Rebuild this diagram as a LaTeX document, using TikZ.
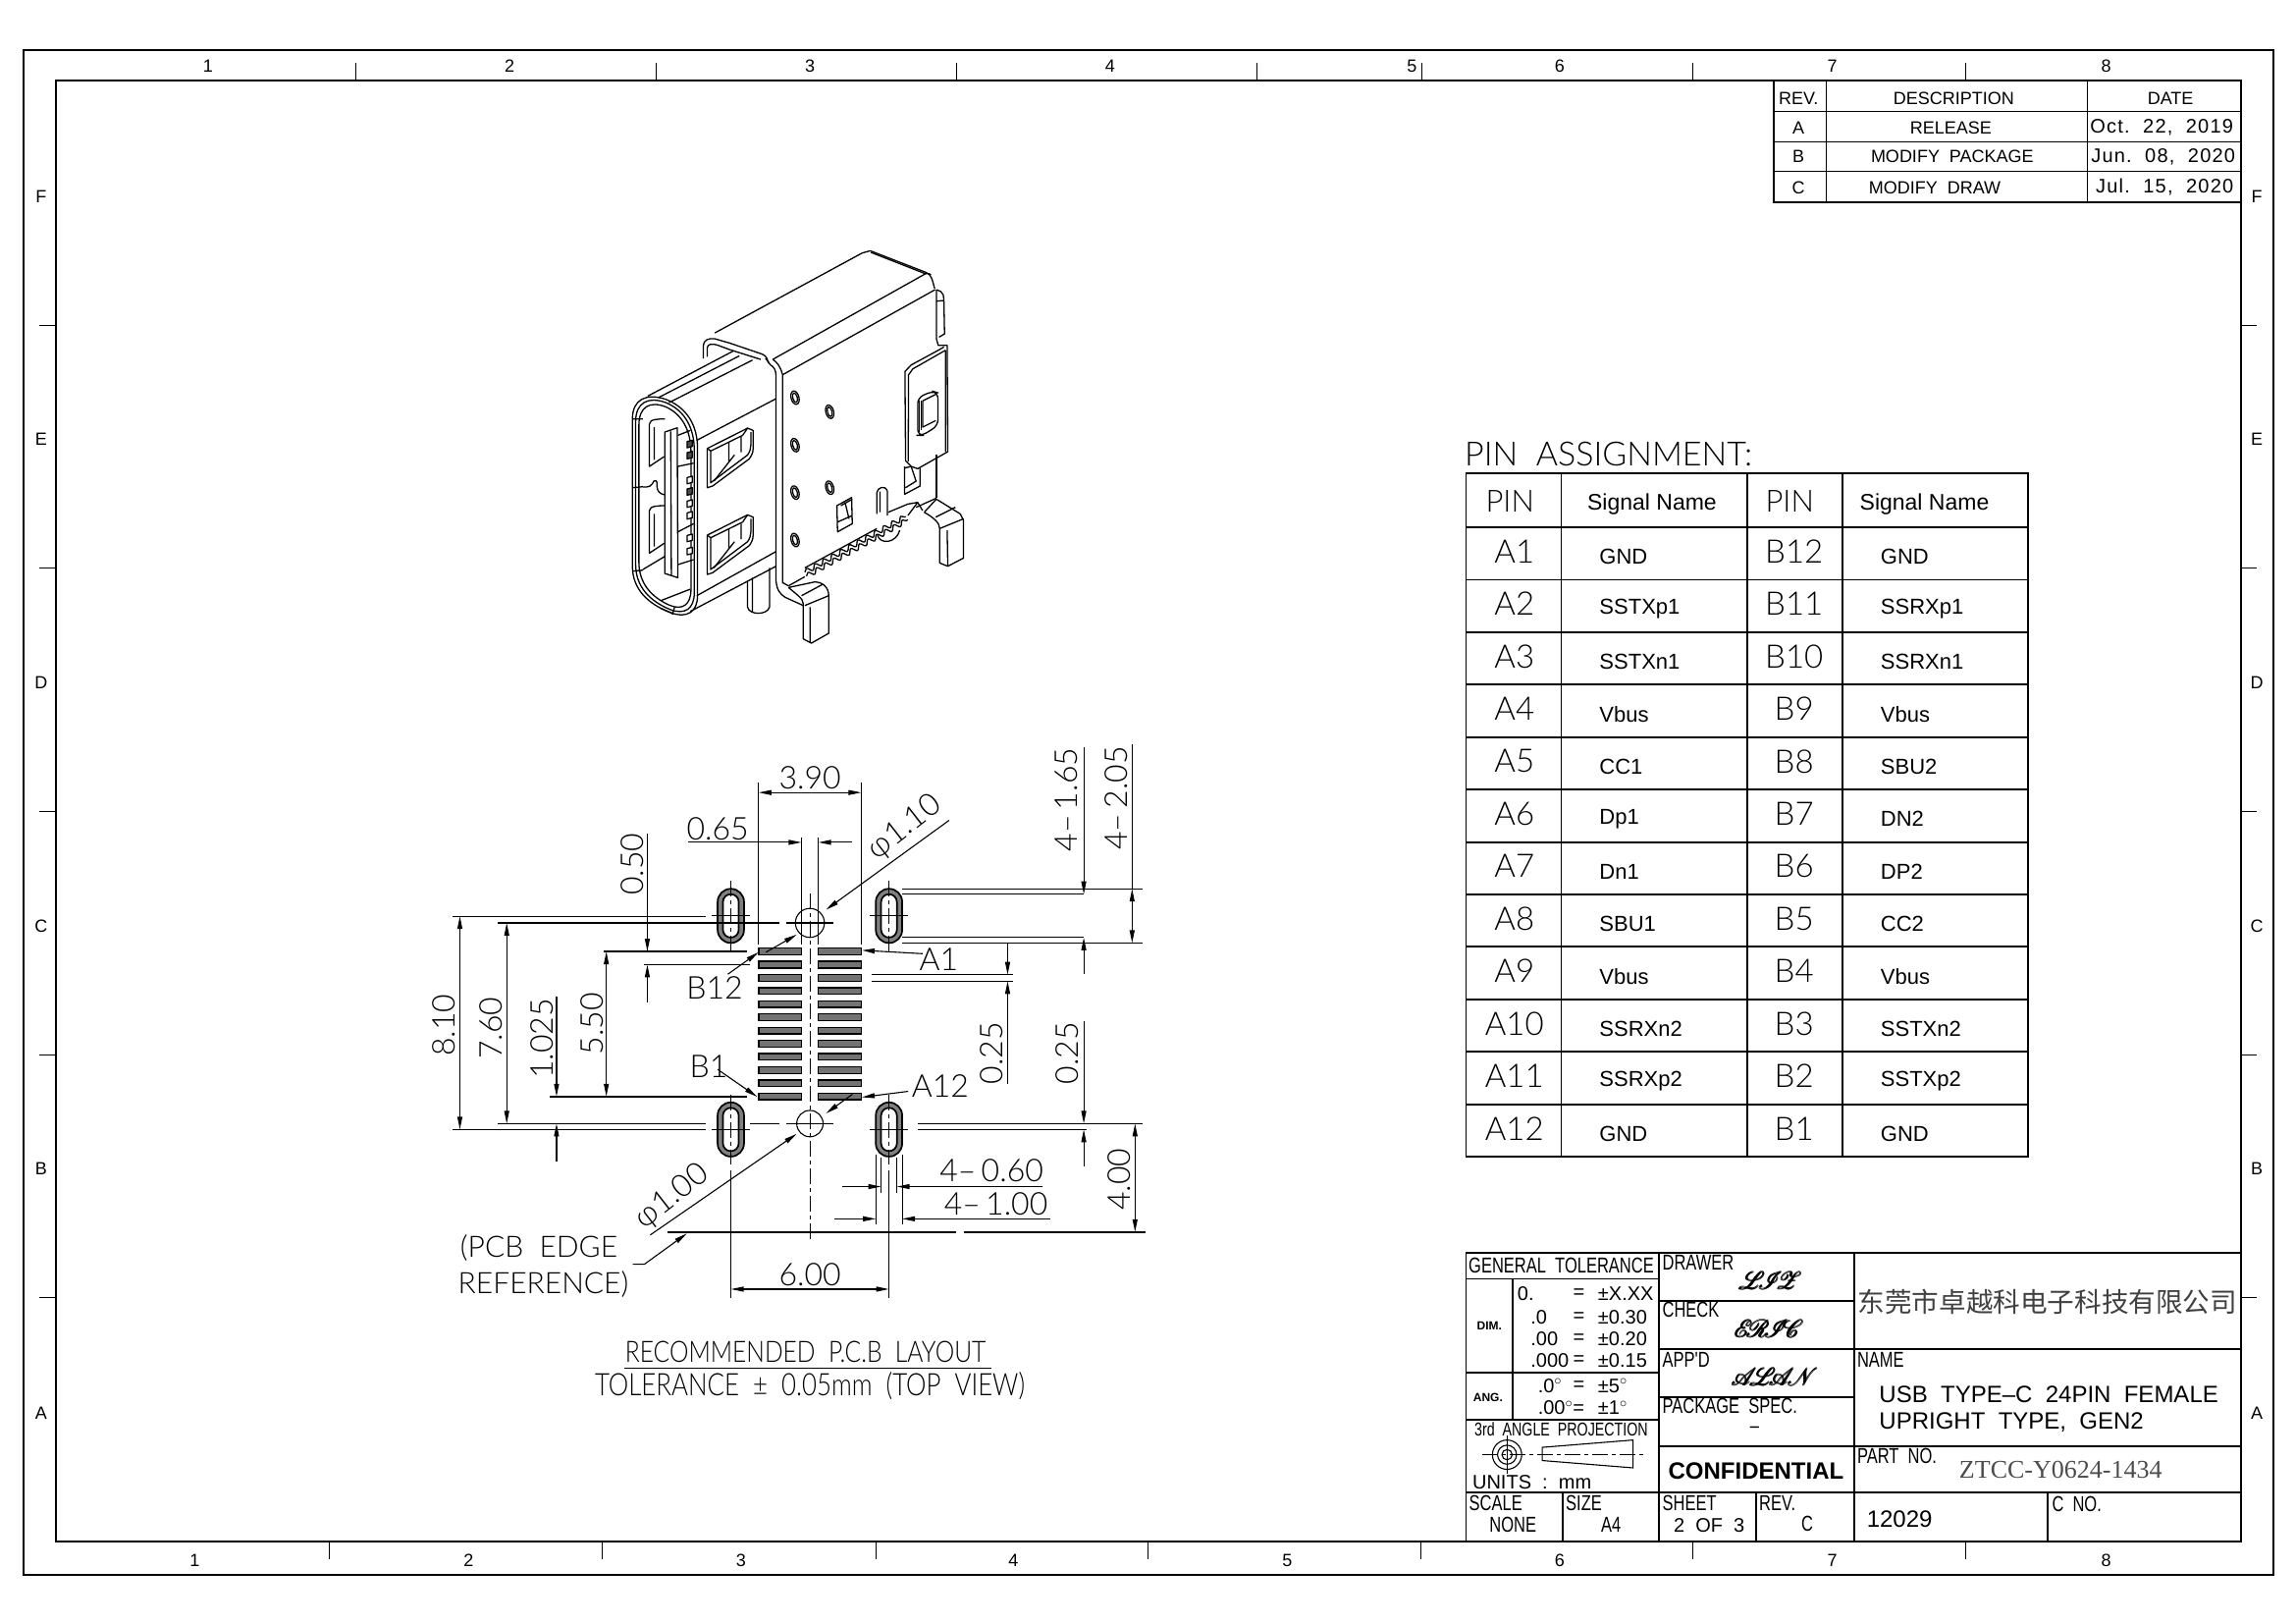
\documentclass[tikz,border=0pt]{standalone}
\usepackage{fontspec}
\usepackage{amsmath}
\usepackage{mathrsfs}
\usepackage{tikz}
\usetikzlibrary{arrows.meta,decorations.pathmorphing}
\setmainfont{Liberation Sans}
\newfontfamily\cad{Liberation Sans}
\newfontfamily\cadn[FakeStretch=0.75]{Liberation Sans}
\newfontfamily\cadw[LetterSpace=6]{Liberation Sans}
\newfontfamily\cadthin{Lato Light}
\newfontfamily\cadthinn[FakeStretch=0.82]{Lato Light}
\newfontfamily\cads{Liberation Serif}
\newfontfamily\cjk{Noto Sans CJK SC}
\newcommand{\fsz}[1]{\fontsize{#1}{#1}\selectfont}
\newcommand{\signletters}[1]{$\pmb{\mathscr{#1}}$}
\tikzset{
  >={Triangle[length=13pt,width=5pt]},
  dimline/.style={line width=1.1pt},
  thickline/.style={line width=1.7pt},
  frameline/.style={line width=1.9pt},
  isoline/.style={line width=1.3pt,line join=round},
  centerline/.style={line width=1pt,dash pattern=on 16pt off 4pt on 4pt off 4pt},
  dimtxt/.style={font=\cadthin\fsz{32},text=black,inner sep=0pt},
  dimtxtn/.style={font=\cadthin\fsz{30},text=black,inner sep=0pt},
  blocktxt/.style={font=\cadn\fsz{22},inner sep=0pt},
  tolval/.style={font=\cad\fsz{20},inner sep=0pt},
  padbox/.style={line width=1.3pt,draw=black,fill=black!55},
  slotring/.style={line width=1.7pt,draw=black,fill=black!50,even odd rule},
  signtxt/.style={font=\fsz{25},inner sep=0pt}
}
\begin{document}
\begin{tikzpicture}[x=1.492pt,y=-1.492pt]
  \useasboundingbox (0,0) rectangle (1567.7,1107.9);
  % frame
  \draw[frameline] (16,34) rectangle (1552,1075);
  \draw[frameline] (38,55) rectangle (1530,1052);
  \foreach \tx in {243,448,653,858,971,1156,1342} \draw[dimline] (\tx,43) -- (\tx,55);
  \foreach \tx in {225,411,598,784,970,1156,1342} \draw[dimline] (\tx,1052) -- (\tx,1064);
  \foreach \ty in {222,388,554,720,886} {
    \draw[dimline] (27,\ty) -- (38,\ty);
    \draw[dimline] (1530,\ty) -- (1541,\ty);
  }
  \begin{scope}[every node/.style={font=\cad\fsz{18},inner sep=0pt}]
    \foreach \tx/\tl in {142/1,348/2,553/3,758/4,964/5,1065/6,1251/7,1438/8}
      \node (top\tl) at (\tx,45) {\tl};
    \foreach \tx/\tl in {133/1,320/2,506/3,692/4,879/5,1065/6,1251/7,1438/8}
      \node (bot\tl) at (\tx,1065) {\tl};
    \foreach \ty/\tl in {134/F,300/E,466/D,632/C,798/B,965/A} {
      \node (left\tl) at (28,\ty) {\tl};
      \node (right\tl) at (1541,\ty) {\tl};
    }
  \end{scope}
  % revision table
  \draw[frameline] (1211,55) rectangle (1530,138);
  \foreach \ty in {76,97,117} \draw[dimline] (1211,\ty) -- (1530,\ty);
  \foreach \tx in {1247,1425} \draw[dimline] (\tx,55) -- (\tx,138);
  \begin{scope}[every node/.style={font=\cad\fsz{18},inner sep=0pt}]
    \node (revh) at (1228,67) {REV.};
    \node (desch) at (1334,67) {DESCRIPTION};
    \node (dateh) at (1482,67) {DATE};
    \node (reva) at (1228,87) {A};
    \node (desca) at (1332,87) {RELEASE};
    \node[font=\cadw\fsz{20}] (datea) at (1476,87) {Oct.\ \ 22,\ \ 2019};
    \node (revb) at (1228,107) {B};
    \node (descb) at (1333,107) {MODIFY\ \ PACKAGE};
    \node[font=\cadw\fsz{20}] (dateb) at (1477,107) {Jun.\ \ 08,\ \ 2020};
    \node (revc) at (1228,128) {C};
    \node (descc) at (1321,128) {MODIFY\ \ DRAW};
    \node[font=\cadw\fsz{20}] (datec) at (1478,128) {Jul.\ \ 15,\ \ 2020};
  \end{scope}
  % connector view
  \begin{scope}[shift={(402.1,154.2)},x=0.3333pt,y=-0.3333pt,isoline]
    \foreach \fs/\ft in {1/1,0.9/0.97,0.8/0.93}
      \draw[shift={(232,855)},xscale=\fs,yscale=\ft,shift={(-232,-855)}]
        (133,590) .. controls (133,530) and (175,510) .. (235,530) .. controls (300,555) and (332,610) .. (332,680)
        -- (332,1130) .. controls (332,1180) and (300,1200) .. (250,1182) .. controls (180,1155) and (133,1110) .. (133,1040) -- cycle;
    \draw (133,590) -- (165,590) (133,800) -- (165,797) (133,1055) -- (165,1052);
    \draw (165,798) .. controls (205,800) and (190,775) .. (205,778) .. controls (215,780) and (195,815) .. (232,822);
    \draw (180,520) -- (440,383) (212,525) -- (460,397) (245,540) -- (500,410);
    \draw (330,655) -- (572,528) (330,1130) -- (572,995) (310,1178) -- (572,1040);
    \draw (165,1050) -- (232,1010) (220,1145) -- (310,1110) (218,1168) -- (258,1185) (262,1165) -- (255,1188);
    % tongue
    \draw (232,630) -- (270,617) -- (272,1075) -- (232,1062) -- cycle (250,628) -- (252,1068);
    \draw (272,640) -- (310,625) (272,735) -- (320,725) (272,935) -- (320,910) (272,1035) -- (320,1020);
    \foreach \py/\pf in {668/70,702/70,778/0,813/70,850/0,886/0,955/0,995/0}
      \draw[fill=black!\pf] (300,\py-9) -- (316,\py-13) -- (316,\py+6) -- (300,\py+10) -- cycle;
    \foreach \py in {0,265} {
      \draw (185,605+\py) -- (185,735+\py) -- (230,705+\py) (200,615+\py) -- (200,715+\py);
      \draw (185,605+\py) .. controls (185,590+\py) and (215,590+\py) .. (232,590+\py);
    }
    % latches
    \foreach \py in {0,265} {
      \draw (362,680+\py) -- (485,618+\py) -- (502,625+\py) -- (502,680+\py) .. controls (502,695+\py) and (495,705+\py) .. (490,712+\py) -- (378,795+\py) -- (362,800+\py) -- cycle;
      \draw (372,688+\py) -- (470,640+\py) (372,688+\py) -- (372,785+\py) -- (485,700+\py) .. controls (492,690+\py) and (495,680+\py) .. (495,670+\py) -- (495,630+\py);
      \draw (428,662+\py) -- (428,722+\py) (465,645+\py) -- (465,692+\py) (382,780+\py) -- (445,700+\py);
      \draw (362,680+\py) -- (372,688+\py) (470,640+\py) -- (485,618+\py);
    }
    % shell
    \draw (350,405) -- (350,365) .. controls (350,350) and (365,342) .. (385,345) -- (430,358) -- (530,392) .. controls (545,398) and (545,410) .. (550,420);
    \draw (362,400) -- (362,372) .. controls (362,362) and (375,358) .. (395,365) -- (430,378) -- (525,408);
    \draw (385,327) -- (835,83) -- (860,76) -- (1030,142) .. controls (1050,150) and (1050,170) .. (1057,192);
    \draw (862,81) -- (1028,146) (562,408) -- (1022,150) .. controls (1030,145) and (1040,142) .. (1045,150);
    \draw (592,455) -- (1058,195) (1062,195) -- (1062,345);
    \draw (1062,195) -- (1075,200) .. controls (1083,205) and (1085,215) .. (1085,225) -- (1087,330) -- (1070,340) (1062,230) -- (1085,228);
    \draw (540,405) -- (555,425) .. controls (565,430) and (572,440) .. (572,460) -- (572,1085) .. controls (575,1115) and (585,1125) .. (600,1135) -- (655,1160);
    \draw (562,408) .. controls (575,415) and (588,435) .. (592,455) -- (592,1090) -- (610,1100);
    % side tab
    \draw (1062,345) -- (1068,365) -- (1095,365) -- (1097,690) -- (1005,742) -- (985,735) -- (968,718) -- (966,445) -- (985,425) -- (1068,380) -- (1085,370);
    \draw (976,720) -- (977,455) -- (990,437) -- (1090,380) (1090,380) -- (1090,690);
    \draw[rounded corners=6pt] (1005,525) -- (1050,505) -- (1067,510) -- (1067,610) -- (1020,640) -- (1005,640) -- cycle;
    \draw (1020,535) -- (1020,615) -- (1060,595) (1020,535) -- (1060,515);
    \draw (1010,535) -- (1010,630) (1015,535) -- (1015,625);
    % dimples
    \foreach \dx/\dy in {630/525,630/670,630/815,630/960,736/568,736/800} {
      \draw[rotate around={15:(\dx,\dy)}] (\dx,\dy) ellipse (12 and 21);
      \draw[rotate around={15:(\dx,\dy)}] (\dx,\dy) ellipse (7 and 15);
    }
    % openings
    \draw (758,855) -- (803,830) -- (805,910) -- (760,935) -- cycle (770,855) -- (800,838) (760,905) -- (805,885) (783,845) -- (795,895);
    \draw (880,880) -- (880,815) .. controls (882,800) and (905,790) .. (912,810) -- (912,885) (890,875) -- (890,812);
    \draw (965,735) -- (965,820) -- (1012,795) -- (1012,740) (965,740) -- (985,735) -- (1000,780) -- (968,800);
    \draw (1062,700) -- (1062,830);
    % comb
    \draw[decorate,decoration={snake,amplitude=2.5pt,segment length=10pt}] (660,1058) -- (968,888);
    \draw[decorate,decoration={snake,amplitude=2.5pt,segment length=10pt}] (665,1070) -- (975,898);
    \draw (882,945) .. controls (890,975) and (940,970) .. (950,930);
    \draw (610,1100) -- (660,1072) (660,1045) -- (880,925) (915,875) -- (975,850) -- (1005,845) -- (1020,870) (975,885) -- (1005,845) (1000,860) -- (1062,832);
    % legs
    \draw (610,1105) -- (690,1088) .. controls (715,1088) and (733,1105) .. (733,1130) -- (733,1245) -- (680,1275) -- (655,1262) -- (655,1155) .. controls (655,1140) and (640,1130) .. (610,1105);
    \draw (650,1130) -- (715,1095) (660,1160) -- (733,1130) (676,1165) -- (676,1272);
    \draw (1025,875) -- (1062,835) -- (1135,880) -- (1145,900) -- (1145,1015) -- (1097,1040) -- (1072,1030) -- (1072,925) .. controls (1072,910) and (1060,895) .. (1025,875);
    \draw (1060,890) -- (1120,860) (1072,925) -- (1145,895) (1095,930) -- (1097,1040);
    % post
    \draw (485,1085) -- (485,1165) .. controls (490,1190) and (545,1190) .. (552,1165) -- (552,1045) (500,1075) -- (500,1178);
  \end{scope}
  % pads and slots
  \foreach \k in {0,...,11} {
    \draw[padbox] (518,{649.5+9*\k-2.25}) rectangle (547.2,{649.5+9*\k+2.25});
    \draw[padbox] (558.8,{649.5+9*\k-2.25}) rectangle (588,{649.5+9*\k+2.25});
  }
  \foreach \sx/\sy in {499/625.2,607/625.2,499/771,607/771} {
    \draw[slotring,rounded corners=13.4pt] (\sx-9,\sy-18.5) rectangle (\sx+9,\sy+18.5)
      [rounded corners=8pt] (\sx-5.4,\sy-14.8) rectangle (\sx+5.4,\sy+14.8);
    \draw[centerline] (\sx,\sy-24) -- (\sx,\sy+24);
    \draw[dimline] (\sx-13,\sy) -- (\sx+13,\sy);
  }
  \draw[dimline] (553,630) circle (9.9) (553,767) circle (9);
  \draw[centerline] (553,610) -- (553,848);
  \draw[dimline] (537,630) -- (569,630) (537,767) -- (569,767);
  % extension lines
  \begin{scope}[dimline]
    \draw (518,534) -- (518,645) (588,534) -- (588,645);
    \draw (547.2,572) -- (547.2,645) (558.8,572) -- (558.8,645);
    \draw (309,625.4) -- (482,625.4) (340,630) -- (532,630);
    \draw (440,658.5) -- (512,658.5);
    \draw (309,771) -- (482,771) (340,767) -- (482,767) (512,767) -- (532,767);
    \draw (627,767) -- (780,767) (627,771) -- (742,771);
    \draw (616,606.7) -- (780,606.7) (616,643.7) -- (780,643.7);
    \draw (616,610.4) -- (740,610.4) (616,640) -- (740,640);
    \draw (595,665.3) -- (692,665.3) (595,669.8) -- (692,669.8);
    \draw (499,799) -- (499,886) (607,799) -- (607,886);
    \draw (601.6,790) -- (601.6,814) (612.4,790) -- (612.4,814);
    \draw (598,788) -- (598,836) (616,788) -- (616,836);
  \end{scope}
  \begin{scope}[thickline]
    \draw (412,649.5) -- (510,649.5) (375,748.5) -- (510,748.5);
    \draw (456,841) -- (653,841) (658,841) -- (782,841);
  \end{scope}
  % dimensions
  \begin{scope}[dimline]
    \draw[<->] (518,541) -- (588,541);
    \draw[->] (470,575) -- (547.2,575);
    \draw[->] (582,575) -- (558.8,575);
    \draw[->] (442,569) -- (442,649.5);
    \draw[->] (442,684) -- (442,658.5);
    \draw[<->] (314,625.4) -- (314,771);
    \draw[<->] (346,630) -- (346,767);
    \draw[->] (380,680) -- (380,748.5);
    \draw[->] (380,793) -- (380,767);
    \draw[<->] (414,649.5) -- (414,748.5);
    \draw[->] (688,643.7) -- (688,665.3);
    \draw[->] (688,740) -- (688,669.8);
    \draw[->] (740,510) -- (740,610.4);
    \draw[->] (740,665) -- (740,640);
    \draw[<->] (773,606.7) -- (773,643.7);
    \draw (773,508) -- (773,606.7);
    \draw[->] (740,697) -- (740,767);
    \draw[->] (740,796) -- (740,771);
    \draw[<->] (775,767) -- (775,841);
    \draw[<->] (499,880) -- (607,880);
    \draw[->] (575,810) -- (601.6,810);
    \draw[->] (712,810) -- (612.4,810);
    \draw[->] (570,832) -- (598,832);
    \draw[->] (717,832) -- (616,832);
    \draw[->] (630,651) -- (588.5,648.7);
    \draw[->] (620,745) -- (588.5,749);
    \draw[->] (490,730) -- (517,748.7);
    \draw[->] (497,665) -- (518,650);
    \draw[->] (648,560) -- (564,621);
    \draw[->] (523,650) -- (544,638);
    \draw[->] (444,843) -- (544,774);
    \draw[->] (582,747) -- (564,760);
    \draw[->] (432,863) -- (440,863) -- (469,842);
  \end{scope}
  % dimension labels
  \begin{scope}[every node/.style={dimtxt}]
    \node (d390) at (553,531) {3.90};
    \node (d065) at (490,566) {0.65};
    \node[rotate=90] (d050) at (432,590) {0.50};
    \node[rotate=90] (d810) at (303,700) {8.10};
    \node[rotate=90] (d760) at (335,702) {7.60};
    \node[rotate=90] (d1025) at (370,709) {1.025};
    \node[rotate=90] (d550) at (404,699) {5.50};
    \node[rotate=90] (d025a) at (677,719) {0.25};
    \node[rotate=90] (d025b) at (729,719) {0.25};
    \node[rotate=90] (d165) at (728,546) {4–\,1.65};
    \node[rotate=90] (d205) at (762,545) {4–\,2.05};
    \node[rotate=90] (d400) at (764,805) {4.00};
    \node (d600) at (553,870) {6.00};
    \node (d060) at (677,799) {4–\,0.60};
    \node (d100) at (680,822) {4–\,1.00};
    \node (pa1) at (641,655) {A1};
    \node (pa12) at (642,741) {A12};
    \node (pb1) at (484,728) {B1};
    \node (pb12) at (488,674) {B12};
    \node[rotate=38] (d110) at (618,565) {φ1.10};
    \node[rotate=38] (d100c) at (459,817) {φ1.00};
  \end{scope}
  \begin{scope}[every node/.style={dimtxtn}]
    \node (edgea) at (368,852) {(PCB\ \ EDGE};
    \node (edgeb) at (371,877) {REFERENCE)};
    \node[font=\cadthinn\fsz{30}] (layout) at (550,923) {RECOMMENDED\ \ P.C.B\ \ LAYOUT};
    \node[font=\cadthinn\fsz{31.5}] (toler) at (553,946) {TOLERANCE\ \ ±\ \ 0.05mm\ \ (TOP\ \ VIEW)};
  \end{scope}
  \draw[thickline] (426,934) -- (677,934);
  % pin table
  \node[font=\cadthin\fsz{34},inner sep=0pt,anchor=west] (pinhead) at (1000,310) {PIN\ \ ASSIGNMENT:};
  \draw[frameline] (1001,323) rectangle (1385,789.6);
  \foreach \tx in {1066,1193,1258} \draw[frameline] (\tx,323) -- (\tx,789.6);
  \foreach \k in {0,...,11} \draw[frameline] (1001,{360+35.8*\k}) -- (1385,{360+35.8*\k});
  \begin{scope}[every node/.style={inner sep=0pt}]
    \node[font=\cadthin\fsz{31}] (pinl) at (1031,342) {PIN};
    \node[font=\cadthin\fsz{31}] (pinr) at (1222,342) {PIN};
    \node[font=\cad\fsz{23}] (sigl) at (1128,344) {Signal Name};
    \node[font=\cad\fsz{23}] (sigr) at (1314,344) {Signal Name};
    \foreach \pa/\sa/\pb/\sb [count=\i from 0] in {A1/GND/B12/GND,A2/SSTXp1/B11/SSRXp1,A3/SSTXn1/B10/SSRXn1,A4/Vbus/B9/Vbus,A5/CC1/B8/SBU2,A6/Dp1/B7/DN2,A7/Dn1/B6/DP2,A8/SBU1/B5/CC2,A9/Vbus/B4/Vbus,A10/SSRXn2/B3/SSTXn2,A11/SSRXp2/B2/SSTXp2,A12/GND/B1/GND} {
      \node[font=\cadthin\fsz{33}] (pin\pa) at (1034,{376.5+35.8*\i}) {\pa};
      \node[font=\cadthin\fsz{33}] (pin\pb) at (1225,{376.5+35.8*\i}) {\pb};
      \node[font=\cad\fsz{22},anchor=west] (sig\pa) at (1092,{380+35.8*\i}) {\sa};
      \node[font=\cad\fsz{22},anchor=west] (sig\pb) at (1284,{380+35.8*\i}) {\sb};
    }
  \end{scope}
  % title block
  \draw[frameline] (1001,855) rectangle (1530,1052);
  \begin{scope}[frameline]
    \draw (1133,855) -- (1133,1052) (1266,855) -- (1266,1052);
    \draw (1001,873) -- (1133,873) (1001,937) -- (1133,937) (1001,969) -- (1133,969) (1001,1019) -- (1530,1019);
    \draw (1033,873) -- (1033,969);
    \foreach \ty in {888,921,954,987} \draw (1133,\ty) -- (1266,\ty);
    \draw (1266,921) -- (1530,921) (1266,987) -- (1530,987);
    \foreach \tx in {1067,1199,1398} \draw (\tx,1019) -- (\tx,1052);
  \end{scope}
  \begin{scope}[every node/.style={blocktxt}]
    \node (gen) at (1066,864) {GENERAL\ \ TOLERANCE};
    \node[font=\cad\bfseries\fsz{12}] (dimh) at (1017,905) {DIM.};
    \node[font=\cad\bfseries\fsz{12}] (angh) at (1016,954) {ANG.};
    \foreach \ty/\tl/\tm/\tr [count=\i] in {883/0./=/±X.XX,899/.0/=/±0.30,914/.00/=/±0.20,929/.000/=/±0.15} {
      \node[tolval,anchor=west] (tola\i) at ({\i==1 ? 1036 : 1045},\ty) {\tl};
      \node[tolval] (tolb\i) at (1078,\ty) {\tm};
      \node[tolval,anchor=west] (tolc\i) at (1091,\ty) {\tr};
    }
    \node[tolval,anchor=west] (anga) at (1050,946) {.0$^\circ$};
    \node[tolval] (angb) at (1078,946) {=};
    \node[tolval,anchor=west] (angc) at (1091,946) {±5$^\circ$};
    \node[tolval,anchor=west] (angd) at (1050,961) {.00$^\circ$=};
    \node[tolval,anchor=west] (ange) at (1091,961) {±1$^\circ$};
    \node[font=\cadn\fsz{19}] (third) at (1066,976) {3rd\ \ ANGLE\ \ PROJECTION};
    \node[tolval] (units) at (1046,1012) {UNITS\ \ :\ \ mm};
    \node[anchor=west] (drawer) at (1135,862) {DRAWER};
    \node[anchor=west] (check) at (1135,894) {CHECK};
    \node[anchor=west] (appd) at (1135,928) {APP'D};
    \node[anchor=west] (pack) at (1135,960) {PACKAGE\ \ SPEC.};
    \node (packv) at (1198,976) {–};
    \node[signtxt] (sigdraw) at (1209,874) {\signletters{L\mkern-5mu I\mkern-5mu Z}};
    \node[signtxt] (sigcheck) at (1208,907) {\signletters{E\mkern-4mu R\mkern-4mu I\mkern-4mu C}};
    \node[signtxt] (sigappd) at (1212,940) {\signletters{A\mkern-5mu L\mkern-5mu A\mkern-5mu N}};
    \node[font=\cad\bfseries\fsz{24}] (conf) at (1199,1004) {CONFIDENTIAL};
    \node[font=\cjk\fsz{27.6},text=black!75] (company) at (1398,889) {东莞市卓越科电子科技有限公司};
    \node[anchor=west] (nameh) at (1268,928) {NAME};
    \node[anchor=west,font=\cad\fsz{24}] (namea) at (1283,952) {USB\ \ TYPE–C\ \ 24PIN\ \ FEMALE};
    \node[anchor=west,font=\cad\fsz{24}] (nameb) at (1283,971) {UPRIGHT\ \ TYPE,\ \ GEN2};
    \node[anchor=west] (parth) at (1268,994) {PART\ \ NO.};
    \node[font=\cads\fsz{26},text=black!70] (partv) at (1407,1003) {ZTCC-Y0624-1434};
    \node[anchor=west] (scaleh) at (1003,1026) {SCALE};
    \node (scalev) at (1033,1041) {NONE};
    \node[anchor=west] (sizeh) at (1069,1026) {SIZE};
    \node (sizev) at (1100,1041) {A4};
    \node[anchor=west] (sheeth) at (1135,1026) {SHEET};
    \node[tolval] (sheetv) at (1167,1041) {2\ \ OF\ \ 3};
    \node[anchor=west] (revh2) at (1201,1026) {REV.};
    \node (revv) at (1234,1040) {C};
    \node[font=\cad\fsz{24}] (code) at (1297,1037) {12029};
    \node[anchor=west] (cno) at (1401,1027) {C\ \ NO.};
  \end{scope}
  % projection symbol
  \begin{scope}[dimline]
    \draw (1029,993) circle (10) (1029,993) circle (6.5) (1029,993) circle (3.5);
    \draw (1029,980) -- (1029,1006);
    \draw (1053,988) -- (1115,983) -- (1115,1002) -- (1053,997) -- cycle;
    \draw[centerline] (1012,993) -- (1122,993);
  \end{scope}
\end{tikzpicture}
\end{document}
